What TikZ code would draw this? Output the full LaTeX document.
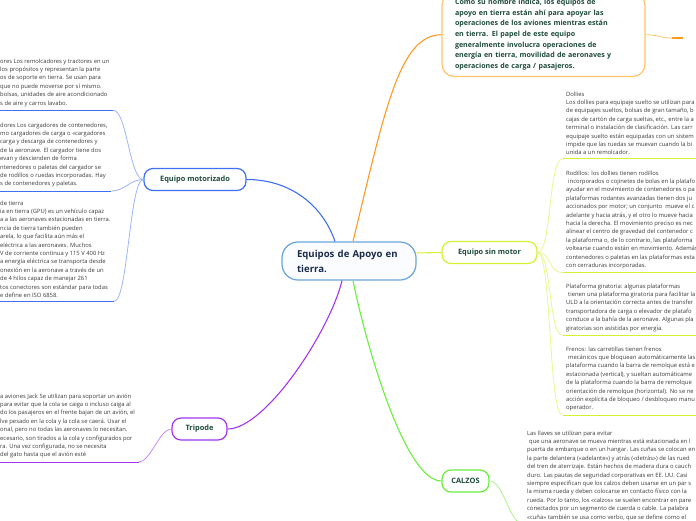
\documentclass[tikz,border=0pt]{standalone}
\usepackage{fontspec}
\setmainfont{Open Sans}
\usetikzlibrary{positioning}
\definecolor{rootblue}{HTML}{6AA6DA}
\definecolor{rootfill}{HTML}{FAFCFF}
\definecolor{roottext}{HTML}{1B2B4B}
\definecolor{nodetext}{HTML}{1E4B3C}
\definecolor{leaftext}{HTML}{3A3A3A}
\definecolor{motblue}{HTML}{3F6FF2}
\definecolor{motlight}{HTML}{9DB4FA}
\definecolor{orangeb}{HTML}{FF9A22}
\definecolor{orangelight}{HTML}{FFC46A}
\definecolor{yellowb}{HTML}{D8F032}
\definecolor{yellowlight}{HTML}{EAF78C}
\definecolor{greenb}{HTML}{6CEE3C}
\definecolor{greenlight}{HTML}{A5F584}
\definecolor{purpleb}{HTML}{A235F2}
\definecolor{purplelight}{HTML}{C88AF7}

\begin{document}
\begin{tikzpicture}[x=1pt,y=-1pt,
  root/.style={rounded corners=16pt,draw=rootblue,line width=1.2pt,fill=rootfill,
    minimum width=134pt,minimum height=38pt,text width=104pt,inner xsep=15pt,
    align=left,text=roottext,font=\fontsize{9.6}{15}\selectfont\bfseries},
  infobox/.style={rounded corners=12pt,draw=orangelight,line width=1.2pt,fill=white,
    text width=177pt,inner xsep=13pt,inner ysep=6pt,align=left,text=nodetext,
    font=\fontsize{7.1}{10.7}\selectfont\bfseries},
  branch/.style={rounded corners=9pt,draw,line width=1.2pt,fill=white,text=nodetext,
    minimum height=22pt,inner xsep=0pt,align=center,
    font=\fontsize{7.4}{9}\selectfont\bfseries},
  leaf/.style={inner sep=3.5pt,align=left,text=leaftext,font=\fontsize{5.85}{8.4}\selectfont},
  link/.style={line width=1.1pt},
  sublink/.style={line width=0.8pt},
  uline/.style={line width=1.1pt}]
\useasboundingbox (0,0) rectangle (696,520);
\clip (0,0) rectangle (696,520);
% nodos principales
\node[root] (root) at (349,261) {Equipos de Apoyo en\\tierra.};
\node[infobox,anchor=south] (info) at (543.5,77)
  {Como su nombre indica, los equipos de\\apoyo en tierra están ahí para apoyar las\\operaciones de los aviones mientras están\\en tierra. El papel de este equipo\\generalmente involucra operaciones de\\energía en tierra, movilidad de aeronaves y\\operaciones de carga / pasajeros.};
\node[branch,draw=motblue,minimum width=102pt] (mot) at (195,179.5) {Equipo motorizado};
\node[branch,draw=yellowb,minimum width=95pt] (sinmot) at (489.5,252.5) {Equipo sin motor};
\node[branch,draw=purpleb,minimum width=55pt] (trip) at (199.5,429) {Tripode};
\node[branch,draw=greenb,minimum width=47pt] (calz) at (465.5,481) {CALZOS};
% hojas de la izquierda
\node[leaf,anchor=north west] (rem) at (-3.5,55)
  {ores Los remolcadores y tractores en un\\los propósitos y representan la parte\\os de soporte en tierra. Se usan para\\que no puede moverse por sí mismo.\\bolsas, unidades de aire acondicionado\\s de aire y carros lavabo.};
\node[leaf,anchor=north west] (carg) at (-3.5,119)
  {dores Los cargadores de contenedores,\\mo cargadores de carga o «cargadores\\carga y descarga de contenedores y\\de la aeronave. El cargador tiene dos\\evan y descienden de forma\\ntenedores o paletas del cargador se\\de rodillos o ruedas incorporadas. Hay\\s de contenedores y paletas.};
\node[leaf,anchor=north west] (gpu) at (-3.5,197)
  {de tierra\\ia en tierra (GPU) es un vehículo capaz\\a a las aeronaves estacionadas en tierra.\\ncia de tierra también pueden\\arela, lo que facilita aún más el\\eléctrica a las aeronaves. Muchos\\V de corriente continua y 115 V 400 Hz\\a energía eléctrica se transporta desde\\onexión en la aeronave a través de un\\de 4 hilos capaz de manejar 261\\tos conectores son estándar para todas\\e define en ISO 6858.};
\node[leaf,anchor=north west] (jack) at (-3.5,390)
  {a aviones Jack Se utilizan para soportar un avión\\para evitar que la cola se caiga o incluso caiga al\\do los pasajeros en el frente bajan de un avión, el\\lve pesado en la cola y la cola se caerá. Usar el\\onal, pero no todas las aeronaves lo necesitan.\\ecesario, son tirados a la cola y configurados por\\ra. Una vez configurada, no se necesita\\del gato hasta que el avión esté};
% hojas de la derecha
\node[leaf,anchor=north west] (dol) at (562.5,88)
  {Dollies\\Los dollies para equipaje suelto se utilizan para\\de equipajes sueltos, bolsas de gran tamaño, b\\cajas de cartón de carga sueltas, etc., entre la a\\terminal o instalación de clasificación. Las carr\\equipaje suelto están equipadas con un sistem\\impide que las ruedas se muevan cuando la bi\\unida a un remolcador.};
\node[leaf,anchor=north west] (rod) at (562.5,167)
  {Rodillos: los dollies tienen rodillos\\\hspace*{2pt}incorporados o cojinetes de bolas en la platafo\\ayudar en el movimiento de contenedores o pa\\plataformas rodantes avanzadas tienen dos ju\\accionados por motor; un conjunto\ \ mueve el c\\adelante y hacia atrás, y el otro lo mueve hacia\\hacia la derecha. El movimiento preciso es nec\\alinear el centro de gravedad del contenedor c\\la plataforma o, de lo contrario, las plataforma\\voltearse cuando están en movimiento. Además\\contenedores o paletas en las plataformas esta\\con cerraduras incorporadas.};
\node[leaf,anchor=north west] (gir) at (562.5,280)
  {Plataforma giratoria: algunas plataformas\\\hspace*{2pt}tienen una plataforma giratoria para facilitar la\\ULD a la orientación correcta antes de transfer\\transportadora de carga o elevador de platafo\\conduce a la bahía de la aeronave. Algunas pla\\giratorias son asistidas por energía.};
\node[leaf,anchor=north west] (fren) at (562.5,343)
  {Frenos: las carretillas tienen frenos\\\hspace*{2pt}mecánicos que bloquean automáticamente las\\plataforma cuando la barra de remolque está e\\estacionada (vertical), y sueltan automáticame\\de la plataforma cuando la barra de remolque\\orientación de remolque (horizontal). No se ne\\acción explícita de bloqueo / desbloqueo manu\\operador.};
\node[leaf,anchor=north west] (llav) at (523.5,427)
  {Las llaves se utilizan para evitar\\\hspace*{2pt}que una aeronave se mueva mientras está estacionada en l\\puerta de embarque o en un hangar. Las cuñas se colocan en\\la parte delantera («adelante») y atrás («detrás») de las rued\\del tren de aterrizaje. Están hechos de madera dura o cauch\\duro. Las pautas de seguridad corporativas en EE. UU. Casi\\siempre especifican que los calzos deben usarse en un par s\\la misma rueda y deben colocarse en contacto físico con la\\rueda. Por lo tanto, los «calzos» se suelen encontrar en pare\\conectados por un segmento de cuerda o cable. La palabra\\«cuña» también se usa como verbo, que se define como el};
\coordinate (infostub) at (672,38);
% ramas
\draw[link,motblue] ([xshift=-14pt]root.north) .. controls +(-12,-35) and +(45,0) .. (mot.east);
\draw[link,orangeb] ([xshift=4pt]root.north) .. controls +(32,-132) and +(-42,0) .. (info.west);
\draw[link,purpleb] ([xshift=-7pt]root.south) .. controls +(-12,50) and +(38,0) .. (trip.east);
\draw[link,greenb] ([xshift=4pt]root.south) .. controls +(12,60) and +(-37,0) .. (calz.west);
\draw[link,yellowb] ([yshift=8pt]root.east) .. controls +(12,0) and +(-12,0) .. (sinmot.west);
\draw[sublink,orangelight] (info.east) .. controls +(14,0) and +(-14,0) .. (infostub);
\draw[uline,orangeb,line width=1.6pt] (infostub) -- ++(11,0);
% hijos
\foreach \leaf in {rem,carg,gpu}{
  \draw[sublink,motlight] (mot.west) .. controls +(-14,0) and +(14,0) .. (\leaf.south east);
  \draw[uline,motblue] (\leaf.south east) -- ++(-130,0);
}
\foreach \leaf in {dol,rod,gir,fren}{
  \draw[sublink,yellowlight] (sinmot.east) .. controls +(14,0) and +(-14,0) .. (\leaf.south west);
  \draw[uline,yellowb] (\leaf.south west) -- ++(150,0);
}
\draw[sublink,purplelight] (trip.west) .. controls +(-12,0) and +(12,0) .. (jack.south east);
\draw[uline,purpleb] (jack.south east) -- ++(-160,0);
\draw[sublink,greenlight] (calz.east) .. controls +(14,0) and +(-14,0) .. (llav.south west);
\draw[uline,greenb] (llav.south west) -- ++(190,0);
\end{tikzpicture}
\end{document}
